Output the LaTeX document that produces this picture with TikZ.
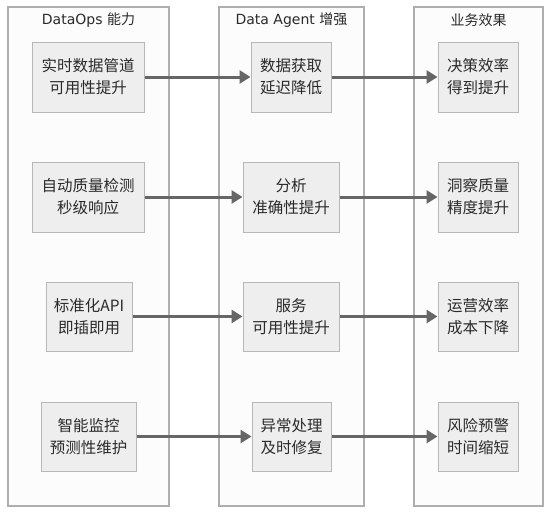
\documentclass[tikz,border=0pt]{standalone}
\usepackage{fontspec}
\setmainfont{DejaVu Sans}
\newfontfamily\cjk{Noto Sans CJK SC}
\usetikzlibrary{arrows.meta}
\definecolor{contborder}{HTML}{AEAEAE}
\definecolor{contfill}{HTML}{FCFCFC}
\definecolor{boxborder}{HTML}{B8B8B8}
\definecolor{boxfill}{HTML}{EEEEEE}
\definecolor{arrowcol}{HTML}{666666}
\definecolor{txt}{HTML}{2A2A2A}
\tikzset{
  container/.style={draw=contborder, line width=1.3pt, fill=contfill},
  ttl/.style={text=txt, font=\fontsize{14}{16}\selectfont, inner sep=0pt},
  itembox/.style={draw=boxborder, line width=1pt, fill=boxfill, text=txt,
     align=center, inner sep=0pt, minimum height=70pt,
     font=\cjk\fontsize{15.5}{22}\selectfont},
  flow/.style={draw=arrowcol, line width=3pt, -{Triangle[length=11pt,width=13pt]}, shorten >=0pt}
}
\begin{document}
\begin{tikzpicture}[x=1pt,y=-1pt]
\useasboundingbox (0,0) rectangle (551,514);
\fill[white] (0,0) rectangle (551,514);
% containers
\draw[container] (8,7) rectangle (169,506);
\draw[container] (219,7) rectangle (364,506);
\draw[container] (414,7) rectangle (543,506);
\node[ttl] (t1) at (88.5,20) {DataOps {\cjk 能力}};
\node[ttl] (t2) at (291.5,20) {Data Agent {\cjk 增强}};
\node[ttl] (t3) at (478.5,20) {\cjk 业务效果};
% row 1
\node[itembox, minimum width=112pt] (a1) at (88,77) {实时数据管道\\可用性提升};
\node[itembox, minimum width=80pt] (b1) at (291,77) {数据获取\\延迟降低};
\node[itembox, minimum width=80pt] (c1) at (478,77) {决策效率\\得到提升};
% row 2
\node[itembox, minimum width=112pt] (a2) at (88,197) {自动质量检测\\秒级响应};
\node[itembox, minimum width=96pt] (b2) at (291,197) {分析\\准确性提升};
\node[itembox, minimum width=80pt] (c2) at (478,197) {洞察质量\\精度提升};
% row 3
\node[itembox, minimum width=86pt, minimum height=69pt] (a3) at (89,316.5) {标准化API\\即插即用};
\node[itembox, minimum width=96pt, minimum height=69pt] (b3) at (291,316.5) {服务\\可用性提升};
\node[itembox, minimum width=80pt, minimum height=69pt] (c3) at (478,316.5) {运营效率\\成本下降};
% row 4
\node[itembox, minimum width=95pt, minimum height=69pt] (a4) at (88.5,436.5) {智能监控\\预测性维护};
\node[itembox, minimum width=79pt, minimum height=69pt] (b4) at (291.5,436.5) {异常处理\\及时修复};
\node[itembox, minimum width=80pt, minimum height=69pt] (c4) at (478,436.5) {风险预警\\时间缩短};
% arrows
\foreach \r in {1,2,3,4}{
  \draw[flow] (a\r.east) -- (b\r.west);
  \draw[flow] (b\r.east) -- (c\r.west);
}
\end{tikzpicture}
\end{document}
